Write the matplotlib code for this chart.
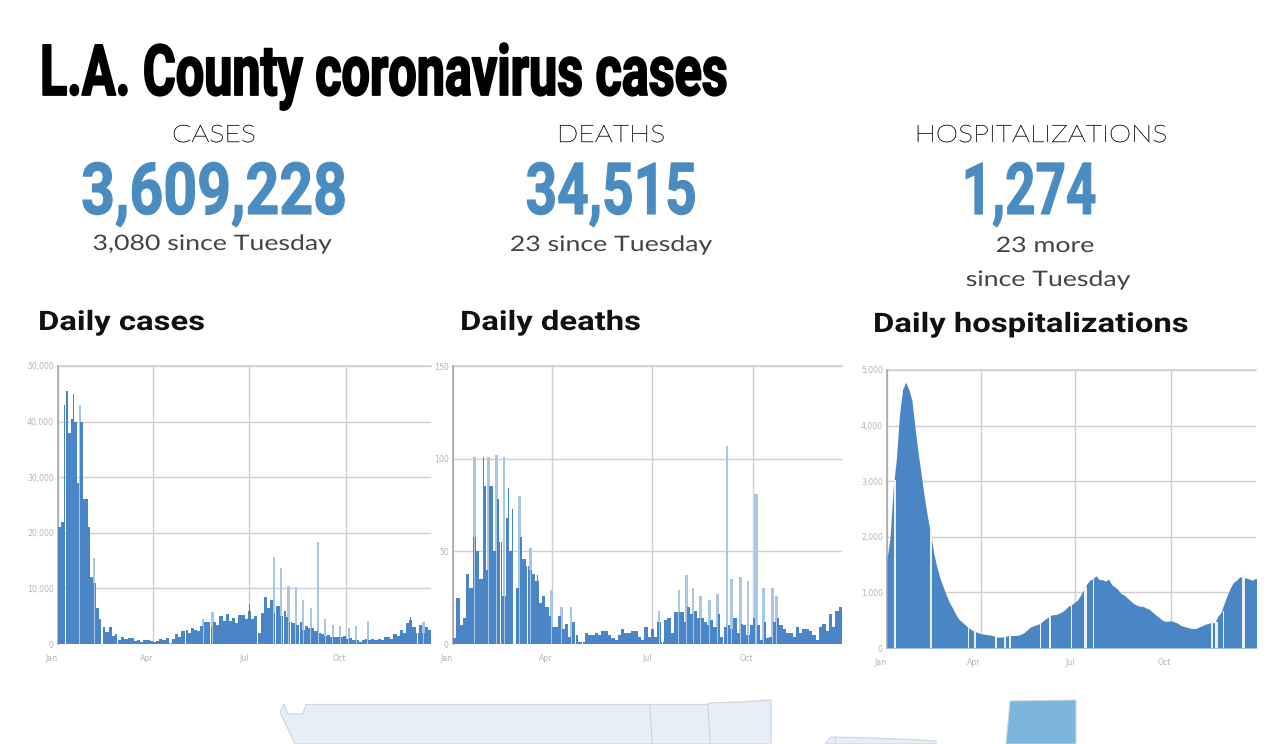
import numpy as np
import matplotlib
matplotlib.use("Agg")
import matplotlib.pyplot as plt
import matplotlib.patheffects as pe
from matplotlib.patches import Polygon
from matplotlib.transforms import Affine2D

W, H = 1280, 744
BLUE = "#4a86c5"
LIGHT = "#a9c6e4"
GRID = "#d2ced6"
NUM = "#4a8cc0"

title = "L.A. County coronavirus cases"
stat_labels = ["CASES", "DEATHS", "HOSPITALIZATIONS"]
stat_values = ["3,609,228", "34,515", "1,274"]
stat_notes = ["3,080 since Tuesday", "23 since Tuesday", "23 more", "since Tuesday"]
chart_titles = ["Daily cases", "Daily deaths", "Daily hospitalizations"]
month_ticks = [0, 90, 181, 273]
month_labels = ["Jan", "Apr", "Jul", "Oct"]

# values per three days
cases = [21000,22000,43000,38000,40500,40000,29000,40000,26000,21000,12000,11000,6500,4500,3000,2200,
         3000,1500,1800,800,1300,900,1000,1000,500,800,300,700,700,600,400,500,900,800,1000,200,900,1800,
         1300,2300,2600,2000,2800,2600,2400,3300,3900,3900,3000,4000,3500,5000,4200,5400,4200,4700,3800,
         5200,5300,4500,6000,4500,5000,2000,5500,8500,6500,8000,5500,6800,5000,6000,4800,4000,3800,3500,
         3900,2500,3200,2800,2800,2400,2000,1800,1500,1700,1200,1300,1300,1300,1400,900,1000,700,700,300,
         800,900,800,900,700,900,800,1200,1300,900,1800,1500,2500,2000,3800,4300,3000,2000,3500,2000,3000,2500]
case_spike_days = [8,14,20,27,34,137,146,181,204,211,218,225,232,239,246,253,260,267,275,282,293,334,346]
case_spike_vals = [45500,45000,43000,26000,15500,4500,5700,7200,15700,13700,10500,10300,8000,6500,18300,
                   4500,3500,3200,2800,3200,4100,4900,4000]
case_gaps = [7,41,42,56,106,120,144,189,206,213,220,228,340]

deaths = [3,25,10,14,38,30,58,50,35,85,40,85,50,78,55,26,68,50,68,30,58,46,42,40,38,34,22,26,20,15,9,9,
          15,8,11,4,12,5,1,1,6,5,5,6,5,7,7,5,3,2,5,8,6,6,7,7,4,2,9,4,8,4,12,1,13,14,6,17,17,17,12,20,16,
          18,14,14,12,10,13,9,16,4,9,10,8,14,6,11,10,5,10,14,10,2,12,3,4,12,14,10,8,6,6,4,9,6,8,8,7,5,2,
          9,11,7,16,9,18,20]
death_spike_days = [19,27,32,39,46,50,54,60,67,70,76,89,98,107,187,205,212,218,225,233,240,249,253,261,268,
                    275,276,282,290,294]
death_spike_vals = [101,101,101,102,101,84,73,80,55,52,37,29,20,20,18,29,37,30,26,24,27,107,35,36,34,81,81,
                    30,30,26]
death_gaps = [43,55,56,67,111,117,190,246]

hospital = [1600,2000,2900,3400,4200,4650,4780,4650,4450,3950,3500,3100,2700,2350,2050,1700,1450,1250,1100,
            950,820,720,610,520,470,420,370,330,300,280,260,250,240,235,220,200,195,200,210,225,225,225,230,
            250,280,330,380,400,420,440,490,530,570,600,600,620,650,690,750,770,820,860,950,1050,1150,1220,
            1250,1300,1230,1230,1200,1240,1140,1100,1050,980,950,900,850,800,770,750,750,720,700,650,600,560,
            510,480,480,490,470,450,410,390,375,360,350,350,380,400,430,440,470,450,570,640,800,950,1080,1180,
            1220,1280,1270,1260,1240,1220,1250,1250]
hosp_gaps = [7,42,78,84,104,113,118,147,156,177,190,191,198,312,316,317,323,342,343]

charts = [
    dict(box=(58, 431, 366, 644), vals=cases, sd=case_spike_days, sv=case_spike_vals, gaps=case_gaps,
         ymax=50000, step=10000, fmt="{:,}", xp=[58, 153, 249, 346], sw=2.0),
    dict(box=(453, 842, 366, 644), vals=deaths, sd=death_spike_days, sv=death_spike_vals, gaps=death_gaps,
         ymax=150, step=50, fmt="{}", xp=[453, 551, 651, 753], sw=2.4),
    dict(box=(887, 1256, 370, 648), vals=hospital, sd=[], sv=[], gaps=hosp_gaps,
         ymax=5000, step=1000, fmt="{:,}", xp=[887, 981, 1076, 1171], sw=1.0),
]


class Stretch(pe.AbstractPathEffect):
    """Scales glyph height about the baseline, with an optional outline."""

    def __init__(self, base_px, sy, stroke=0.0):
        super().__init__()
        self.y0, self.sy, self.stroke = H - base_px, sy, stroke

    def draw_path(self, renderer, gc, tpath, affine, rgbFace=None):
        aff = affine + Affine2D().translate(0, -self.y0).scale(1, self.sy).translate(0, self.y0)
        if self.stroke:
            g = renderer.new_gc()
            g.copy_properties(gc)
            g.set_foreground(rgbFace)
            g.set_linewidth(self.stroke)
            renderer.draw_path(g, tpath, aff, rgbFace)
            g.restore()
        else:
            renderer.draw_path(gc, tpath, aff, rgbFace)


fig = plt.figure(figsize=(W / 100, H / 100), dpi=100, facecolor="white")
bg = fig.add_axes([0, 0, 1, 1])
bg.set_xlim(0, W)
bg.set_ylim(H, 0)
bg.axis("off")


def txt(x, y, s, fs, sy, stroke=0.0, family="Roboto", weight="normal", color="black", ha="center"):
    t = bg.text(x, y, s, fontsize=fs, family=family, fontweight=weight, color=color, ha=ha, va="baseline")
    t.set_path_effects([Stretch(y, sy, stroke)])
    return t


txt(40, 95, title, 36.2, 1.40, stroke=1.3, weight="bold", ha="left")

label_x = [214, 611, 1041]
for x, s in zip(label_x, stat_labels):
    txt(x, 142, s, 20.4, 0.85, stroke=0.3, family="Lato", weight="light", color="#222222")

num_x = [214, 611, 1029]
num_fs = [42.5, 39.6, 38.2]
for x, s, fs in zip(num_x, stat_values, num_fs):
    txt(x, 214, s, fs, 51 / (fs * 1.389 * 0.71), stroke=0.8, weight="bold", color=NUM)

note_x = [212, 611, 1045, 1048]
note_y = [250, 251, 252, 286]
for x, y, s in zip(note_x, note_y, stat_notes):
    txt(x, y, s, 19.2, 0.8, family="Lato", color="#444444")

title_x = [38, 460, 873]
title_y = [330, 330, 332]
for x, y, s in zip(title_x, title_y, chart_titles):
    txt(x, y, s, 23.6, 0.82, weight="bold", color="#111111", ha="left")

for idx, c in enumerate(charts):
    x0, x1, ytop, ybot = c["box"]
    ax = fig.add_axes([x0 / W, 1 - ybot / H, (x1 - x0) / W, (ybot - ytop) / H])
    days_per_px = 273 / (c["xp"][3] - c["xp"][0])
    ax.set_xlim(0, (x1 - x0) * days_per_px)
    ax.set_ylim(0, c["ymax"])
    if idx < 2:
        daily = np.repeat(np.array(c["vals"], dtype=float), 3)
        colors = [BLUE] * len(daily)
        widths = np.full(len(daily), 1.02)
        for d, v in zip(c["sd"], c["sv"]):
            if v > daily[d] * 1.25:
                colors[d] = LIGHT
                widths[d] = c["sw"]
            daily[d] = v
        for d in c["gaps"]:
            daily[d] = 0
        order = np.argsort(widths)[::-1]
        ax.bar((np.arange(len(daily)) + 0.5)[order], daily[order], width=widths[order],
               color=[colors[i] for i in order], linewidth=0, zorder=3)
    else:
        vals = np.array(c["vals"], dtype=float)
        days = np.arange(len(vals)) * 3.0
        ax.fill_between(days, vals, 0, color=BLUE, linewidth=0, zorder=3)
        gap = np.array(c["gaps"])
        ax.bar(gap + 0.5, vals[gap // 3] * 1.04, width=1.6, color="#e9f0f8", linewidth=0, zorder=4)
    ax.set_xticks(month_ticks)
    ax.set_xticklabels(month_labels, ha="right")
    yt = np.arange(0, c["ymax"] + 1, c["step"])
    ax.set_yticks(yt)
    ax.set_yticklabels([c["fmt"].format(int(v)) for v in yt])
    ax.grid(True, color=GRID, linewidth=1)
    ax.set_axisbelow(True)
    ax.tick_params(length=0, labelsize=5.6, labelcolor="#b5b5b5")
    ax.tick_params(axis="x", pad=7)
    ax.tick_params(axis="y", pad=3)
    for s in ["top", "right", "bottom"]:
        ax.spines[s].set_visible(False)
    ax.spines["left"].set_color("#a8a8ac")
    ax.spines["left"].set_linewidth(1.2)
    ax.axhline(c["ymax"], color=GRID, lw=1.2, clip_on=False, zorder=1)

# cropped map at the foot of the page
map_west = [(280, 712), (284, 704), (288, 714), (303, 714), (306, 704.5), (708, 704.5), (710, 703),
            (740, 702), (768, 700), (771, 700), (771, 744), (295, 744)]
map_east = [(825, 744), (831, 737), (871, 738), (920, 740), (936, 741), (936, 744)]
map_dark = [(1010, 701), (1076, 700), (1076, 744), (1006, 744)]
map_lines = [[(650, 705), (652, 744)], [(708, 704), (710, 744)], [(835, 737), (835, 744)]]
bg.add_patch(Polygon(map_west, closed=True, fc="#e6eff8", ec="#d2d7dd", lw=0.9))
bg.add_patch(Polygon(map_east, closed=True, fc="#e6eff8", ec="#d2d7dd", lw=0.9))
bg.add_patch(Polygon(map_dark, closed=True, fc="#7cb6dd", ec="#c9d6dd", lw=0.7))
for ln in map_lines:
    bg.plot(*zip(*ln), color="#d2d7dd", lw=0.9)

fig.savefig("out.png", dpi=100, facecolor="white")
